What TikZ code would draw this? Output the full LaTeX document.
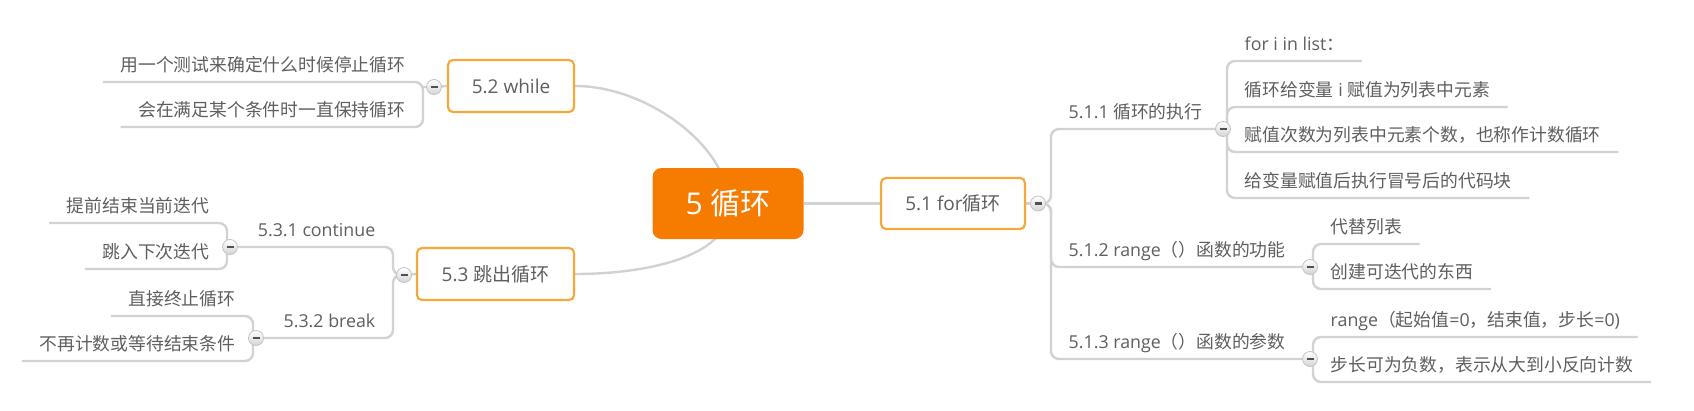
\documentclass[tikz,border=0pt]{standalone}
\usepackage{fontspec}
\setmainfont{Open Sans}
\newfontfamily\cjkfont{Noto Sans CJK SC}
\newcommand{\zhs}[1]{{\cjkfont #1}}
\usetikzlibrary{calc}
\pgfdeclarelayer{bg}
\pgfsetlayers{bg,main}
\definecolor{linec}{RGB}{208,210,212}
\definecolor{txt}{RGB}{95,95,95}
\definecolor{boxc}{RGB}{246,168,58}
\definecolor{rootc}{RGB}{245,124,0}
\definecolor{knobfill}{RGB}{212,212,212}
\definecolor{knobdraw}{RGB}{196,196,196}
\definecolor{knobminus}{RGB}{80,80,80}
\begin{document}
\begin{tikzpicture}[x=1pt,y=-1pt,
  link/.style={draw=linec, line width=2.4pt, rounded corners=8pt},
  lbl/.style={font=\fontsize{17.8}{21}\selectfont, text=txt, inner xsep=17.5pt, inner ysep=8pt, text height=15.7pt, text depth=2.1pt},
  topic/.style={draw=boxc, line width=2.2pt, fill=white, rounded corners=5pt, font=\fontsize{19}{23}\selectfont, text=txt, minimum height=51pt, inner sep=0pt},
  root/.style={fill=rootc, rounded corners=9pt, text=white, font=\fontsize{30}{36}\selectfont, minimum width=151pt, minimum height=71pt, inner sep=0pt},
  knob/.style={circle, minimum size=15pt, inner sep=0pt, top color=white, bottom color=knobfill, draw=knobdraw, line width=0.8pt,
    path picture={\draw[knobminus, line width=2.2pt] ([xshift=-3.5pt]path picture bounding box.center) -- ([xshift=3.5pt]path picture bounding box.center);}}
]
\useasboundingbox (0,0) rectangle (1694,410);

% main topics
\node[root] (r) at (728,203.5) {5 \zhs{循环}};
\node[topic, minimum width=144pt] (t51) at (953,203.5) {5.1 for\zhs{循环}};
\node[topic, minimum width=126pt, minimum height=52pt] (t52) at (511,86) {5.2 while};
\node[topic, minimum width=157pt, minimum height=52pt] (t53) at (495.5,274) {5.3 \zhs{跳出循环}};

% right side labels
\node[lbl, anchor=south west] (n511) at (1051,129) {5.1.1 \zhs{循环的执行}};
\node[lbl, anchor=south west] (n512) at (1051,267) {5.1.2 range\zhs{（）函数的功能}};
\node[lbl, anchor=south west] (n513) at (1051,359) {5.1.3 range\zhs{（）函数的参数}};

\node[lbl, anchor=south west] (a1) at (1227,61) {for i in list\zhs{：}};
\node[lbl, anchor=south west] (a2) at (1227,107) {\zhs{循环给变量} i \zhs{赋值为列表中元素}};
\node[lbl, anchor=south west] (a3) at (1227,152) {\zhs{赋值次数为列表中元素个数，也称作计数循环}};
\node[lbl, anchor=south west] (a4) at (1227,198) {\zhs{给变量赋值后执行冒号后的代码块}};

\node[lbl, anchor=south west] (b1) at (1313,244) {\zhs{代替列表}};
\node[lbl, anchor=south west] (b2) at (1313,289) {\zhs{创建可迭代的东西}};

\node[lbl, anchor=south west] (c1) at (1313,337) {range\zhs{（起始值}=0\zhs{，结束值，步长}=0)};
\node[lbl, anchor=south west] (c2) at (1313,382) {\zhs{步长可为负数，表示从大到小反向计数}};

% left side labels
\node[lbl, anchor=south east] (d1) at (423,82) {\zhs{用一个测试来确定什么时候停止循环}};
\node[lbl, anchor=south east] (d2) at (423,127) {\zhs{会在满足某个条件时一直保持循环}};

\node[lbl, anchor=south east] (n531) at (393,247) {5.3.1 continue};
\node[lbl, anchor=south east] (n532) at (393,338) {5.3.2 break};

\node[lbl, anchor=south east] (e1) at (227,223) {\zhs{提前结束当前迭代}};
\node[lbl, anchor=south east] (e2) at (227,269) {\zhs{跳入下次迭代}};
\node[lbl, anchor=south east] (f1) at (253,316) {\zhs{直接终止循环}};
\node[lbl, anchor=south east] (f2) at (253,361) {\zhs{不再计数或等待结束条件}};

% knobs
\node[knob] (k51) at (1038,203.5) {};
\node[knob] (k511) at (1223,129) {};
\node[knob] (k512) at (1310,267) {};
\node[knob] (k513) at (1310,359) {};
\node[knob] (k52) at (434,87) {};
\node[knob] (k53) at (404,275) {};
\node[knob] (k531) at (230,247) {};
\node[knob] (k532) at (256,338) {};

\begin{pgfonlayer}{bg}
\fill[white] (0,0) rectangle (1694,410);
% root connectors
\draw[link] (r.east) -- (t51.west);
\draw[link] (r.center) .. controls (730,150) and (650,86) .. (t52.east);
\draw[link] (r.center) .. controls (735,255) and (650,274) .. (t53.east);
% 5.1
\draw[link] (t51.east) -- (k51.center);
\draw[link] (k51.center) -- (k51.center -| n511.south west) |- (k511.center);
\draw[link] (k51.center) -- (k51.center -| n511.south west) |- (k512.center);
\draw[link] (k51.center) -- (k51.center -| n511.south west) |- (k513.center);
% 5.1.1
\draw[link] (k511.center -| a1.south west) |- (a1.south east);
\draw[link] (k511.center -| a1.south west) |- (a2.south east);
\draw[link] (k511.center -| a1.south west) |- (a3.south east);
\draw[link] (k511.center -| a1.south west) |- (a4.south east);
% 5.1.2
\draw[link] (k512.center -| b1.south west) |- (b1.south east);
\draw[link] (k512.center -| b1.south west) |- (b2.south east);
% 5.1.3
\draw[link] (k513.center -| c1.south west) |- (c1.south east);
\draw[link] (k513.center -| c1.south west) |- (c2.south east);
% 5.2
\draw[link] (t52.west) -- (k52.center) -- (k52.center -| d1.south east);
\draw[link] (d1.south west) -| (d2.south east) -- (d2.south west);
% 5.3
\draw[link] (t53.west) -- (k53.center);
\draw[link] (k53.center) -- (k53.center -| n531.south east) |- (k531.center);
\draw[link] (k53.center) -- (k53.center -| n531.south east) |- (k532.center);
% 5.3.1
\draw[link] (k531.center -| e1.south east) |- (e1.south west);
\draw[link] (k531.center -| e1.south east) |- (e2.south west);
% 5.3.2
\draw[link] (k532.center -| f1.south east) |- (f1.south west);
\draw[link] (k532.center -| f1.south east) |- (f2.south west);
\end{pgfonlayer}
\end{tikzpicture}
\end{document}
